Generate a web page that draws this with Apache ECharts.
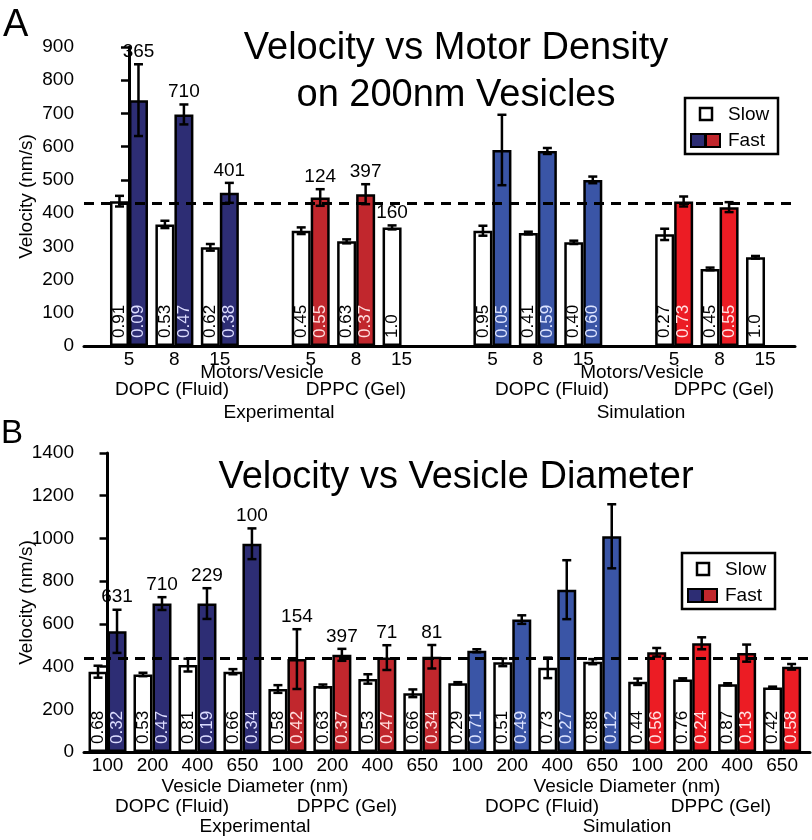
<!DOCTYPE html>
<html>
<head>
<meta charset="utf-8">
<script src="https://cdn.jsdelivr.net/npm/echarts@6/dist/echarts.min.js"></script>
<style>
  html, body { margin: 0; padding: 0; background: #fff; }
  #main { width: 812px; height: 840px; }
</style>
</head>
<body>
<div id="main"></div>
<script>
// ---- panel A : velocity vs motor density, 200nm vesicles ('' = gap between groups)
const motorTicks    = ['5', '8', '15', '', '5', '8', '15', '', '5', '8', '15', '', '5', '8', '15'];
const motorGroup    = ['ED', 'ED', 'ED', '', 'EP', 'EP', 'EP', '', 'SD', 'SD', 'SD', '', 'SP', 'SP', 'SP'];
const motorSlow     = [436, 366, 297, null, 347, 315, 357, null, 347, 340, 312, null, 336, 232, 267];
const motorSlowErr  = [16, 11, 10, null, 10, 6, 6, null, 15, 4, 5, null, 17, 4, 4];
const motorFast     = [740, 697, 461, null, 447, 457, null, null, 590, 587, 500, null, 435, 418, null];
const motorFastErr  = [108, 30, 30, null, 25, 30, null, null, 106, 9, 10, null, 15, 15, null];
const motorSlowFrac = ['0.91', '0.53', '0.62', '', '0.45', '0.63', '1.0', '', '0.95', '0.41', '0.40', '', '0.27', '0.45', '1.0'];
const motorFastFrac = ['0.09', '0.47', '0.38', '', '0.55', '0.37', '', '', '0.05', '0.59', '0.60', '', '0.73', '0.55', ''];
const motorSlowN    = ['', '', '', '', '', '', '160', '', '', '', '', '', '', '', ''];
const motorFastN    = ['365', '710', '401', '', '124', '397', '', '', '', '', '', '', '', '', ''];
const motorMean = 430;

// ---- panel B : velocity vs vesicle diameter
const diamTicks    = ['100', '200', '400', '650', '100', '200', '400', '650', '100', '200', '400', '650', '100', '200', '400', '650'];
const diamGroup    = ['ED', 'ED', 'ED', 'ED', 'EP', 'EP', 'EP', 'EP', 'SD', 'SD', 'SD', 'SD', 'SP', 'SP', 'SP', 'SP'];
const diamSlow     = [376, 363, 407, 376, 295, 309, 342, 275, 322, 420, 394, 423, 329, 340, 317, 302];
const diamSlowErr  = [28, 8, 30, 12, 18, 7, 22, 18, 5, 18, 48, 12, 15, 5, 5, 4];
const diamFast     = [565, 695, 695, 975, 435, 455, 442, 446, 474, 620, 760, 1010, 467, 509, 463, 399];
const diamFastErr  = [101, 30, 72, 72, 140, 28, 58, 55, 7, 20, 138, 150, 20, 28, 40, 13];
const diamSlowFrac = ['0.68', '0.53', '0.81', '0.66', '0.58', '0.63', '0.53', '0.66', '0.29', '0.51', '0.73', '0.88', '0.44', '0.76', '0.87', '0.42'];
const diamFastFrac = ['0.32', '0.47', '0.19', '0.34', '0.42', '0.37', '0.47', '0.34', '0.71', '0.49', '0.27', '0.12', '0.56', '0.24', '0.13', '0.58'];
const diamSlowN    = ['', '', '', '', '', '', '', '', '', '', '', '', '', '', '', ''];
const diamFastN    = ['631', '710', '229', '100', '154', '397', '71', '81', '', '', '', '', '', '', '', ''];
const diamMean = 440;

const FONT = '"Liberation Sans", Arial, sans-serif';
// ED exp DOPC, EP exp DPPC, SD sim DOPC, SP sim DPPC
const fastColor = { ED: '#2d2d74', EP: '#c1272d', SD: '#3a55a6', SP: '#ec1c24' };
const fracColor = { ED: '#dcdcff', EP: '#ffdede', SD: '#dde4ff', SP: '#ffe4e4' };
const BAR_W = 19;

function barSeries(g, vals, fracs, group, isFast, mean) {
  const s = {
    type: 'bar', xAxisIndex: g, yAxisIndex: g,
    barWidth: BAR_W, barGap: '0%',
    data: vals.map((v, i) => {
      if (v == null) return null;
      const item = { value: [i, v] };
      if (isFast) {
        item.itemStyle = { color: fastColor[group[i]] };
        item.label = { color: fracColor[group[i]] };
      }
      return item;
    }).filter(Boolean),
    itemStyle: { color: '#fff', borderColor: '#000', borderWidth: 2.5 },
    label: {
      show: true, position: 'insideBottom', rotate: 90, align: 'left', verticalAlign: 'middle',
      distance: 8, fontSize: 17, fontFamily: FONT, color: '#000',
      formatter: p => fracs[p.value[0]]
    }
  };
  if (mean != null) {
    s.markLine = {
      silent: true, symbol: ['none', 'none'], label: { show: false }, z: 10,
      lineStyle: { color: '#000', width: 3, type: [10, 7] },
      data: [{ yAxis: mean }]
    };
  }
  return s;
}

function errorSeries(g, vals, errs, names, dx) {
  return {
    type: 'custom', xAxisIndex: g, yAxisIndex: g, z: 5, silent: true,
    data: vals.map((v, i) => v == null ? null : [i, v, errs[i]]).filter(Boolean),
    encode: { x: 0, y: 1 },
    renderItem: (params, api) => {
      const i = api.value(0), v = api.value(1), e = api.value(2);
      const top = api.coord([i, v + e]);
      const bot = api.coord([i, v - e]);
      const x = top[0] + dx;
      const ls = { stroke: '#000', lineWidth: 2.5 };
      const kids = [
        { type: 'line', shape: { x1: x, y1: top[1], x2: x, y2: bot[1] }, style: ls },
        { type: 'line', shape: { x1: x - 4.5, y1: top[1], x2: x + 4.5, y2: top[1] }, style: ls },
        { type: 'line', shape: { x1: x - 4.5, y1: bot[1], x2: x + 4.5, y2: bot[1] }, style: ls }
      ];
      if (names[i]) {
        kids.push({
          type: 'text', x: x, y: top[1] - 3,
          style: { text: names[i], textAlign: 'center', textVerticalAlign: 'bottom', fontSize: 19, fontFamily: FONT, fill: '#000' }
        });
      }
      return { type: 'group', children: kids };
    }
  };
}

function xAxisFor(g, ticks, min, max) {
  return {
    type: 'value', gridIndex: g, min: min, max: max,
    axisLine: { show: true, onZero: false, lineStyle: { color: '#000', width: 3 } },
    axisTick: { show: false },
    splitLine: { show: false },
    axisLabel: {
      customValues: ticks.map((t, i) => i).filter(i => ticks[i] !== ''),
      formatter: v => ticks[v] || '',
      fontSize: 19, fontFamily: FONT, color: '#000', margin: 4
    }
  };
}

function yAxisFor(g, max, step) {
  return {
    type: 'value', gridIndex: g, min: 0, max: max, interval: step,
    axisLine: { show: true, lineStyle: { color: '#000', width: 3 } },
    axisTick: { show: true, length: 8, lineStyle: { color: '#000', width: 2.5 } },
    axisLabel: { fontSize: 19, fontFamily: FONT, color: '#000', margin: 10, formatter: v => String(v) },
    splitLine: { show: false },
    name: 'Velocity (nm/s)', nameLocation: 'middle', nameGap: 48, nameMoveOverlap: false,
    nameTextStyle: { fontSize: 19, fontFamily: FONT, color: '#000' }
  };
}

function txt(x, y, s, size, align) {
  return {
    type: 'text', x: x, y: y, z: 20,
    style: { text: s, fontSize: size, fontFamily: FONT, fill: '#000', textAlign: align || 'center', textVerticalAlign: 'middle' }
  };
}

function legendBox(x, y) {
  return [
    { type: 'rect', z: 20, shape: { x: x, y: y, width: 93, height: 56 }, style: { fill: '#fff', stroke: '#000', lineWidth: 2.5 } },
    { type: 'rect', z: 21, shape: { x: x + 15, y: y + 10, width: 12, height: 12 }, style: { fill: '#fff', stroke: '#000', lineWidth: 2.5 } },
    { type: 'rect', z: 21, shape: { x: x + 6, y: y + 36, width: 14, height: 13 }, style: { fill: fastColor.ED, stroke: '#000', lineWidth: 2 } },
    { type: 'rect', z: 21, shape: { x: x + 21, y: y + 36, width: 14, height: 13 }, style: { fill: fastColor.EP, stroke: '#000', lineWidth: 2 } },
    txt(x + 43, y + 17, 'Slow', 19, 'left'),
    txt(x + 43, y + 43, 'Fast', 19, 'left')
  ];
}

const chart = echarts.init(document.getElementById('main'));
chart.setOption({
  animation: false,
  backgroundColor: '#fff',
  textStyle: { fontFamily: FONT },
  grid: [
    { left: 84, top: 47, width: 711, height: 299 },
    { left: 84, top: 453, width: 726, height: 299 }
  ],
  xAxis: [
    xAxisFor(0, motorTicks, -0.99, 14.66),
    xAxisFor(1, diamTicks, -0.523, 15.62)
  ],
  yAxis: [
    yAxisFor(0, 900, 100),
    yAxisFor(1, 1400, 200)
  ],
  series: [
    barSeries(0, motorSlow, motorSlowFrac, motorGroup, false, motorMean),
    barSeries(0, motorFast, motorFastFrac, motorGroup, true, null),
    errorSeries(0, motorSlow, motorSlowErr, motorSlowN, -BAR_W / 2),
    errorSeries(0, motorFast, motorFastErr, motorFastN, BAR_W / 2),
    barSeries(1, diamSlow, diamSlowFrac, diamGroup, false, diamMean),
    barSeries(1, diamFast, diamFastFrac, diamGroup, true, null),
    errorSeries(1, diamSlow, diamSlowErr, diamSlowN, -BAR_W / 2),
    errorSeries(1, diamFast, diamFastErr, diamFastN, BAR_W / 2)
  ],
  graphic: [
    txt(3, 26, 'A', 38, 'left'),
    txt(1, 434, 'B', 33, 'left'),
    txt(456, 49, 'Velocity vs Motor Density', 38),
    txt(456, 96, 'on 200nm Vesicles', 38),
    txt(456, 478, 'Velocity vs Vesicle Diameter', 38),
    // panel A axis captions
    txt(262, 373, 'Motors/Vesicle', 19),
    txt(642, 373, 'Motors/Vesicle', 19),
    txt(172, 390, 'DOPC (Fluid)', 19),
    txt(356, 390, 'DPPC (Gel)', 19),
    txt(552, 390, 'DOPC (Fluid)', 19),
    txt(724, 390, 'DPPC (Gel)', 19),
    txt(279, 413, 'Experimental', 19),
    txt(641, 413, 'Simulation', 19),
    // panel B axis captions
    txt(255, 787, 'Vesicle Diameter (nm)', 19),
    txt(627, 787, 'Vesicle Diameter (nm)', 19),
    txt(172, 807, 'DOPC (Fluid)', 19),
    txt(347, 807, 'DPPC (Gel)', 19),
    txt(542, 807, 'DOPC (Fluid)', 19),
    txt(721, 807, 'DPPC (Gel)', 19),
    txt(255, 827, 'Experimental', 19),
    txt(627, 827, 'Simulation', 19),
    ...legendBox(685, 98),
    ...legendBox(682, 553)
  ]
});
</script>
</body>
</html>
